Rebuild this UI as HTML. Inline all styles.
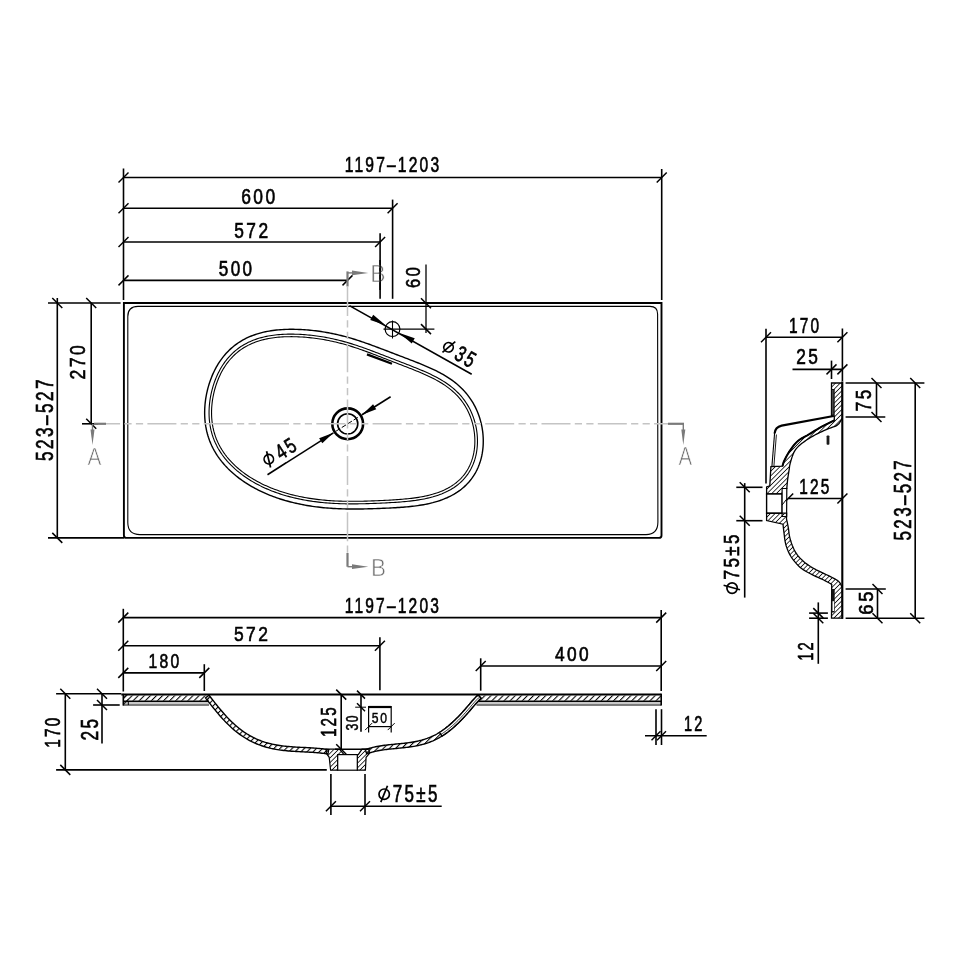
<!DOCTYPE html>
<html><head><meta charset="utf-8"><style>html,body{margin:0;padding:0;background:#fff;width:960px;height:960px;overflow:hidden}svg{display:block} text{-webkit-font-smoothing:grayscale}</style></head>
<body><svg width="960" height="960" viewBox="0 0 960 960">
<rect width="960" height="960" fill="#fff"/>
<g style="will-change:transform">
<line x1="123.50" y1="168.50" x2="123.50" y2="300.00" stroke="#000" stroke-width="1.6" />
<line x1="123.50" y1="177.50" x2="661.70" y2="177.50" stroke="#000" stroke-width="1.6" />
<line x1="118.50" y1="182.50" x2="128.50" y2="172.50" stroke="#000" stroke-width="1.5" />
<line x1="656.70" y1="182.50" x2="666.70" y2="172.50" stroke="#000" stroke-width="1.5" />
<line x1="123.50" y1="208.20" x2="392.60" y2="208.20" stroke="#000" stroke-width="1.6" />
<line x1="118.50" y1="213.20" x2="128.50" y2="203.20" stroke="#000" stroke-width="1.5" />
<line x1="387.60" y1="213.20" x2="397.60" y2="203.20" stroke="#000" stroke-width="1.5" />
<line x1="123.50" y1="242.00" x2="380.10" y2="242.00" stroke="#000" stroke-width="1.6" />
<line x1="118.50" y1="247.00" x2="128.50" y2="237.00" stroke="#000" stroke-width="1.5" />
<line x1="375.10" y1="247.00" x2="385.10" y2="237.00" stroke="#000" stroke-width="1.5" />
<line x1="123.50" y1="280.40" x2="347.50" y2="280.40" stroke="#000" stroke-width="1.6" />
<line x1="118.50" y1="285.40" x2="128.50" y2="275.40" stroke="#000" stroke-width="1.5" />
<line x1="342.50" y1="285.40" x2="352.50" y2="275.40" stroke="#000" stroke-width="1.5" />
<line x1="661.70" y1="169.00" x2="661.70" y2="300.00" stroke="#000" stroke-width="1.6" />
<line x1="392.60" y1="199.60" x2="392.60" y2="298.80" stroke="#000" stroke-width="1.6" />
<line x1="380.10" y1="233.30" x2="380.10" y2="298.80" stroke="#000" stroke-width="1.6" />
<text transform="translate(345.70,156.30) scale(0.1562,0.2243) translate(-6.5,71.5)" font-family="Liberation Sans" font-size="100" letter-spacing="14" fill="#000" stroke="#000" stroke-width="3">1197–1203</text>
<text transform="translate(241.80,187.30) scale(0.1746,0.2284) translate(-3.5,71.5)" font-family="Liberation Sans" font-size="100" letter-spacing="14" fill="#000" stroke="#000" stroke-width="3">600</text>
<text transform="translate(234.70,221.70) scale(0.1735,0.2270) translate(-2.5,71.5)" font-family="Liberation Sans" font-size="100" letter-spacing="14" fill="#000" stroke="#000" stroke-width="3">572</text>
<text transform="translate(219.20,259.70) scale(0.1711,0.2257) translate(-2.5,71.5)" font-family="Liberation Sans" font-size="100" letter-spacing="14" fill="#000" stroke="#000" stroke-width="3">500</text>
<line x1="48.00" y1="303.00" x2="120.60" y2="303.00" stroke="#000" stroke-width="1.6" />
<line x1="48.00" y1="537.90" x2="124.00" y2="537.90" stroke="#000" stroke-width="1.6" />
<line x1="82.00" y1="423.80" x2="98.00" y2="423.80" stroke="#000" stroke-width="1.6" />
<line x1="57.30" y1="298.00" x2="57.30" y2="538.00" stroke="#000" stroke-width="1.6" />
<line x1="52.30" y1="298.00" x2="62.30" y2="308.00" stroke="#000" stroke-width="1.5" />
<line x1="52.30" y1="532.90" x2="62.30" y2="542.90" stroke="#000" stroke-width="1.5" />
<line x1="91.20" y1="303.00" x2="91.20" y2="423.80" stroke="#000" stroke-width="1.6" />
<line x1="86.20" y1="298.00" x2="96.20" y2="308.00" stroke="#000" stroke-width="1.5" />
<line x1="86.20" y1="418.80" x2="96.20" y2="428.80" stroke="#000" stroke-width="1.5" />
<text transform="translate(36.30,460.50) rotate(-90) scale(0.1724,0.2311) translate(-2.5,71.5)" font-family="Liberation Sans" font-size="100" letter-spacing="14" fill="#000" stroke="#000" stroke-width="3">523–527</text>
<text transform="translate(70.30,378.80) rotate(-90) scale(0.1757,0.2122) translate(-3.5,71.5)" font-family="Liberation Sans" font-size="100" letter-spacing="14" fill="#000" stroke="#000" stroke-width="3">270</text>
<path d="M123.9,303 H661.5 V535.5 Q661.5,537.9 659,537.9 H126.3 Q123.9,537.9 123.9,535.5 Z" stroke="#000" stroke-width="1.9" fill="none" />
<path d="M127.8,316.5 Q127.8,306.4 138,306.4 H650 Q657.6,306.4 657.6,314 L657.9,522 Q657.9,534.6 646,534.6 H140 Q127.8,534.6 127.8,522.5 Z" stroke="#000" stroke-width="1.1" fill="none" />
<path d="M205.28,423.09 L205.07,421.28 L204.91,419.46 L204.78,417.64 L204.70,415.81 L204.66,413.98 L204.65,412.14 L204.68,410.30 L204.75,408.45 L204.86,406.60 L205.00,404.75 L205.18,402.90 L205.40,401.05 L205.65,399.20 L205.94,397.35 L206.27,395.50 L206.63,393.65 L207.03,391.81 L207.46,389.98 L207.93,388.15 L208.43,386.33 L208.97,384.52 L209.54,382.71 L210.15,380.92 L210.79,379.15 L211.47,377.38 L212.18,375.63 L212.93,373.90 L213.72,372.19 L214.54,370.49 L215.40,368.82 L216.29,367.17 L217.23,365.54 L218.19,363.94 L219.19,362.36 L220.23,360.82 L221.31,359.30 L222.42,357.81 L223.56,356.36 L224.74,354.94 L225.96,353.55 L227.21,352.20 L228.49,350.89 L229.81,349.61 L231.16,348.37 L232.54,347.17 L233.96,346.01 L235.40,344.90 L236.87,343.82 L238.38,342.78 L239.91,341.79 L241.47,340.84 L243.05,339.93 L244.66,339.06 L246.29,338.23 L247.95,337.45 L249.63,336.71 L251.32,336.00 L253.04,335.34 L254.77,334.72 L256.52,334.14 L258.29,333.59 L260.07,333.09 L261.86,332.62 L263.67,332.18 L265.48,331.78 L267.31,331.42 L269.14,331.08 L270.98,330.78 L272.83,330.52 L274.68,330.28 L276.54,330.07 L278.40,329.88 L280.26,329.73 L282.13,329.60 L284.00,329.49 L285.87,329.41 L287.73,329.35 L289.60,329.32 L291.47,329.30 L293.34,329.31 L295.21,329.33 L297.07,329.38 L298.93,329.45 L300.79,329.53 L302.65,329.63 L304.51,329.75 L306.36,329.88 L308.21,330.03 L310.06,330.20 L311.90,330.39 L313.74,330.59 L315.58,330.81 L317.41,331.04 L319.25,331.29 L321.07,331.55 L322.90,331.84 L324.72,332.13 L326.54,332.45 L328.36,332.77 L330.17,333.12 L331.98,333.48 L333.79,333.85 L335.59,334.24 L337.39,334.65 L339.19,335.07 L340.98,335.51 L342.77,335.96 L344.56,336.43 L346.34,336.91 L348.12,337.41 L349.90,337.92 L351.67,338.44 L353.44,338.98 L355.21,339.52 L356.97,340.08 L358.73,340.65 L360.49,341.24 L362.24,341.83 L363.99,342.43 L365.74,343.04 L367.48,343.65 L369.23,344.28 L370.97,344.91 L372.70,345.55 L374.44,346.19 L376.17,346.84 L377.90,347.49 L379.63,348.14 L381.36,348.80 L383.09,349.45 L384.82,350.11 L386.54,350.77 L388.27,351.43 L390.00,352.10 L391.72,352.76 L393.45,353.42 L395.18,354.08 L396.90,354.74 L398.63,355.40 L400.36,356.06 L402.09,356.72 L403.82,357.38 L405.55,358.04 L407.29,358.70 L409.02,359.36 L410.75,360.03 L412.49,360.70 L414.22,361.37 L415.95,362.05 L417.68,362.73 L419.41,363.42 L421.14,364.12 L422.86,364.83 L424.58,365.55 L426.30,366.28 L428.01,367.02 L429.71,367.77 L431.41,368.54 L433.10,369.33 L434.77,370.13 L436.44,370.95 L438.10,371.79 L439.74,372.65 L441.37,373.53 L442.99,374.44 L444.59,375.37 L446.17,376.33 L447.73,377.31 L449.27,378.32 L450.79,379.35 L452.29,380.42 L453.76,381.51 L455.21,382.64 L456.63,383.79 L458.02,384.98 L459.39,386.19 L460.73,387.44 L462.03,388.72 L463.30,390.03 L464.54,391.37 L465.75,392.74 L466.92,394.15 L468.06,395.58 L469.16,397.05 L470.22,398.54 L471.24,400.06 L472.23,401.62 L473.18,403.20 L474.08,404.81 L474.95,406.44 L475.78,408.10 L476.56,409.78 L477.31,411.49 L478.01,413.22 L478.67,414.97 L479.29,416.73 L479.86,418.52 L480.39,420.33 L480.88,422.15 L481.32,423.98 L481.72,425.82 L482.08,427.68 L482.38,429.55 L482.65,431.42 L482.87,433.30 L483.04,435.19 L483.16,437.07 L483.24,438.96 L483.27,440.85 L483.25,442.74 L483.19,444.62 L483.08,446.50 L482.91,448.37 L482.70,450.23 L482.44,452.08 L482.13,453.92 L481.77,455.74 L481.37,457.55 L480.91,459.34 L480.40,461.11 L479.84,462.86 L479.22,464.58 L478.56,466.29 L477.85,467.96 L477.09,469.62 L476.27,471.24 L475.41,472.83 L474.49,474.39 L473.53,475.92 L472.52,477.42 L471.46,478.88 L470.35,480.30 L469.20,481.69 L467.99,483.04 L466.75,484.36 L465.46,485.63 L464.13,486.86 L462.75,488.06 L461.34,489.21 L459.89,490.32 L458.39,491.39 L456.87,492.42 L455.31,493.41 L453.72,494.36 L452.09,495.26 L450.44,496.13 L448.76,496.95 L447.06,497.74 L445.33,498.48 L443.58,499.19 L441.81,499.86 L440.03,500.49 L438.23,501.08 L436.41,501.64 L434.58,502.17 L432.75,502.67 L430.90,503.13 L429.04,503.56 L427.18,503.96 L425.32,504.34 L423.45,504.69 L421.58,505.01 L419.71,505.31 L417.84,505.59 L415.98,505.85 L414.11,506.09 L412.25,506.31 L410.39,506.51 L408.53,506.70 L406.68,506.87 L404.84,507.04 L403.00,507.19 L401.16,507.32 L399.33,507.45 L397.50,507.57 L395.68,507.69 L393.86,507.79 L392.04,507.89 L390.23,507.99 L388.42,508.08 L386.61,508.16 L384.81,508.24 L383.00,508.32 L381.20,508.40 L379.39,508.47 L377.59,508.53 L375.78,508.60 L373.97,508.66 L372.16,508.71 L370.34,508.77 L368.53,508.82 L366.70,508.86 L364.88,508.90 L363.05,508.94 L361.21,508.97 L359.37,508.99 L357.52,509.01 L355.67,509.02 L353.82,509.02 L351.95,509.02 L350.09,509.01 L348.21,508.98 L346.34,508.95 L344.46,508.91 L342.57,508.86 L340.69,508.80 L338.80,508.72 L336.91,508.64 L335.01,508.54 L333.12,508.43 L331.22,508.31 L329.33,508.17 L327.44,508.02 L325.55,507.86 L323.66,507.68 L321.77,507.49 L319.89,507.29 L318.01,507.07 L316.14,506.83 L314.27,506.58 L312.41,506.32 L310.56,506.04 L308.71,505.75 L306.87,505.44 L305.04,505.12 L303.21,504.78 L301.40,504.43 L299.59,504.06 L297.79,503.67 L296.00,503.28 L294.21,502.86 L292.43,502.43 L290.67,501.98 L288.91,501.52 L287.15,501.04 L285.41,500.55 L283.67,500.03 L281.94,499.50 L280.21,498.96 L278.49,498.39 L276.78,497.81 L275.07,497.21 L273.37,496.58 L271.68,495.94 L269.99,495.28 L268.30,494.60 L266.63,493.90 L264.95,493.18 L263.29,492.43 L261.62,491.66 L259.97,490.87 L258.32,490.06 L256.67,489.22 L255.04,488.36 L253.41,487.47 L251.79,486.56 L250.18,485.62 L248.58,484.65 L246.99,483.66 L245.41,482.65 L243.85,481.60 L242.29,480.53 L240.76,479.44 L239.24,478.32 L237.74,477.17 L236.25,475.99 L234.79,474.79 L233.35,473.56 L231.93,472.30 L230.53,471.02 L229.16,469.71 L227.82,468.38 L226.51,467.02 L225.22,465.64 L223.97,464.23 L222.75,462.80 L221.56,461.35 L220.41,459.87 L219.29,458.38 L218.21,456.86 L217.17,455.32 L216.17,453.76 L215.21,452.19 L214.28,450.59 L213.40,448.98 L212.56,447.35 L211.76,445.70 L211.01,444.04 L210.30,442.36 L209.62,440.67 L209.00,438.96 L208.41,437.24 L207.87,435.51 L207.37,433.76 L206.92,432.01 L206.51,430.25 L206.14,428.47 L205.81,426.69 L205.52,424.89 Z" stroke="#000" stroke-width="1.4" fill="none" />
<path d="M209.64,422.55 L209.45,420.84 L209.29,419.12 L209.18,417.39 L209.10,415.66 L209.06,413.92 L209.05,412.17 L209.08,410.42 L209.15,408.66 L209.25,406.90 L209.39,405.14 L209.56,403.37 L209.77,401.60 L210.01,399.84 L210.29,398.07 L210.60,396.30 L210.95,394.54 L211.33,392.78 L211.74,391.03 L212.19,389.28 L212.67,387.54 L213.19,385.81 L213.74,384.10 L214.32,382.39 L214.94,380.69 L215.59,379.02 L216.27,377.35 L216.99,375.71 L217.74,374.08 L218.52,372.48 L219.34,370.89 L220.19,369.33 L221.07,367.80 L221.99,366.29 L222.94,364.81 L223.92,363.36 L224.93,361.94 L225.98,360.54 L227.06,359.18 L228.17,357.86 L229.31,356.57 L230.48,355.31 L231.68,354.09 L232.91,352.90 L234.18,351.76 L235.47,350.64 L236.79,349.57 L238.14,348.54 L239.51,347.54 L240.92,346.58 L242.35,345.66 L243.80,344.78 L245.29,343.94 L246.79,343.14 L248.32,342.37 L249.87,341.65 L251.45,340.96 L253.04,340.31 L254.66,339.69 L256.29,339.12 L257.95,338.58 L259.62,338.07 L261.30,337.60 L263.00,337.16 L264.72,336.76 L266.45,336.39 L268.19,336.05 L269.94,335.74 L271.70,335.46 L273.47,335.22 L275.25,335.00 L277.04,334.80 L278.83,334.64 L280.63,334.50 L282.43,334.38 L284.24,334.29 L286.04,334.22 L287.86,334.17 L289.67,334.15 L291.48,334.14 L293.30,334.16 L295.11,334.19 L296.93,334.25 L298.74,334.32 L300.55,334.41 L302.36,334.52 L304.17,334.64 L305.98,334.78 L307.78,334.94 L309.59,335.12 L311.39,335.31 L313.18,335.51 L314.98,335.73 L316.77,335.97 L318.55,336.22 L320.34,336.49 L322.12,336.77 L323.89,337.07 L325.67,337.39 L327.44,337.72 L329.21,338.06 L330.97,338.42 L332.73,338.80 L334.49,339.19 L336.25,339.60 L338.00,340.02 L339.75,340.45 L341.50,340.90 L343.24,341.37 L344.99,341.85 L346.72,342.34 L348.46,342.85 L350.20,343.37 L351.93,343.90 L353.66,344.45 L355.39,345.01 L357.12,345.58 L358.84,346.16 L360.56,346.75 L362.29,347.35 L364.01,347.96 L365.73,348.58 L367.45,349.21 L369.17,349.84 L370.89,350.48 L372.61,351.12 L374.32,351.77 L376.04,352.43 L377.76,353.09 L379.48,353.75 L381.20,354.41 L382.92,355.08 L384.64,355.75 L386.36,356.41 L388.09,357.08 L389.81,357.75 L391.53,358.42 L393.26,359.09 L394.99,359.76 L396.71,360.43 L398.44,361.10 L400.17,361.77 L401.89,362.43 L403.62,363.10 L405.35,363.77 L407.07,364.44 L408.79,365.11 L410.52,365.79 L412.23,366.46 L413.95,367.14 L415.66,367.83 L417.36,368.52 L419.06,369.22 L420.76,369.92 L422.44,370.63 L424.12,371.36 L425.79,372.09 L427.44,372.83 L429.09,373.59 L430.72,374.36 L432.34,375.14 L433.95,375.94 L435.54,376.75 L437.11,377.59 L438.67,378.44 L440.20,379.31 L441.72,380.20 L443.21,381.12 L444.69,382.05 L446.14,383.01 L447.56,383.99 L448.96,385.00 L450.33,386.03 L451.68,387.08 L453.00,388.16 L454.29,389.27 L455.55,390.40 L456.78,391.56 L457.98,392.75 L459.15,393.96 L460.29,395.20 L461.40,396.47 L462.47,397.76 L463.51,399.08 L464.52,400.43 L465.49,401.81 L466.43,403.21 L467.33,404.64 L468.19,406.10 L469.02,407.58 L469.82,409.08 L470.57,410.61 L471.29,412.16 L471.98,413.73 L472.62,415.33 L473.23,416.94 L473.79,418.58 L474.32,420.23 L474.81,421.89 L475.26,423.58 L475.67,425.27 L476.04,426.98 L476.37,428.70 L476.65,430.42 L476.89,432.16 L477.10,433.90 L477.25,435.64 L477.37,437.39 L477.44,439.13 L477.47,440.87 L477.45,442.61 L477.39,444.35 L477.29,446.07 L477.14,447.79 L476.95,449.50 L476.71,451.19 L476.43,452.87 L476.10,454.54 L475.73,456.18 L475.31,457.81 L474.85,459.42 L474.34,461.00 L473.79,462.57 L473.20,464.10 L472.56,465.62 L471.87,467.10 L471.15,468.56 L470.38,469.99 L469.56,471.40 L468.70,472.77 L467.80,474.11 L466.86,475.42 L465.87,476.70 L464.84,477.95 L463.77,479.16 L462.66,480.34 L461.50,481.49 L460.31,482.61 L459.07,483.69 L457.80,484.73 L456.49,485.75 L455.14,486.72 L453.76,487.67 L452.34,488.57 L450.89,489.45 L449.40,490.29 L447.89,491.09 L446.34,491.86 L444.77,492.59 L443.16,493.29 L441.54,493.96 L439.89,494.59 L438.22,495.19 L436.53,495.76 L434.82,496.30 L433.09,496.81 L431.35,497.28 L429.60,497.73 L427.83,498.15 L426.05,498.55 L424.27,498.92 L422.48,499.26 L420.68,499.58 L418.87,499.88 L417.07,500.16 L415.26,500.42 L413.44,500.66 L411.63,500.89 L409.82,501.10 L408.00,501.29 L406.19,501.47 L404.38,501.64 L402.57,501.79 L400.76,501.94 L398.96,502.08 L397.15,502.21 L395.35,502.33 L393.55,502.44 L391.75,502.55 L389.96,502.65 L388.16,502.75 L386.37,502.84 L384.57,502.93 L382.78,503.02 L380.98,503.10 L379.19,503.18 L377.40,503.26 L375.60,503.33 L373.80,503.40 L372.00,503.46 L370.20,503.53 L368.39,503.58 L366.58,503.64 L364.77,503.69 L362.95,503.73 L361.13,503.77 L359.31,503.80 L357.48,503.83 L355.65,503.85 L353.82,503.87 L351.98,503.87 L350.13,503.87 L348.29,503.86 L346.44,503.83 L344.58,503.80 L342.73,503.76 L340.87,503.71 L339.01,503.65 L337.15,503.57 L335.29,503.49 L333.43,503.39 L331.57,503.28 L329.71,503.15 L327.85,503.02 L326.00,502.87 L324.14,502.70 L322.29,502.53 L320.45,502.33 L318.61,502.13 L316.78,501.91 L314.95,501.67 L313.13,501.43 L311.31,501.16 L309.51,500.89 L307.70,500.59 L305.91,500.29 L304.13,499.97 L302.35,499.63 L300.58,499.28 L298.83,498.91 L297.07,498.53 L295.33,498.14 L293.60,497.73 L291.87,497.30 L290.15,496.86 L288.44,496.40 L286.74,495.93 L285.05,495.44 L283.36,494.93 L281.68,494.40 L280.01,493.86 L278.34,493.31 L276.68,492.73 L275.03,492.13 L273.38,491.52 L271.74,490.89 L270.10,490.23 L268.47,489.56 L266.85,488.87 L265.23,488.15 L263.62,487.42 L262.01,486.66 L260.41,485.88 L258.82,485.08 L257.24,484.25 L255.66,483.40 L254.10,482.53 L252.54,481.63 L250.99,480.71 L249.46,479.77 L247.93,478.79 L246.43,477.80 L244.93,476.78 L243.45,475.73 L241.99,474.66 L240.54,473.56 L239.12,472.44 L237.71,471.30 L236.33,470.13 L234.96,468.93 L233.63,467.71 L232.32,466.47 L231.03,465.21 L229.78,463.92 L228.55,462.61 L227.36,461.28 L226.20,459.92 L225.07,458.55 L223.97,457.16 L222.91,455.74 L221.88,454.31 L220.90,452.86 L219.95,451.40 L219.03,449.91 L218.16,448.41 L217.33,446.89 L216.53,445.36 L215.78,443.81 L215.06,442.25 L214.39,440.68 L213.76,439.09 L213.16,437.49 L212.61,435.87 L212.10,434.24 L211.63,432.60 L211.20,430.95 L210.81,429.29 L210.46,427.62 L210.15,425.94 L209.88,424.25 Z" stroke="#000" stroke-width="1.1" fill="none" />
<path d="M212.13,422.24 L211.94,420.58 L211.79,418.92 L211.67,417.25 L211.60,415.57 L211.55,413.88 L211.55,412.19 L211.58,410.49 L211.64,408.78 L211.74,407.07 L211.88,405.36 L212.05,403.64 L212.25,401.92 L212.49,400.20 L212.76,398.48 L213.06,396.76 L213.40,395.04 L213.77,393.33 L214.17,391.63 L214.61,389.93 L215.08,388.23 L215.58,386.55 L216.12,384.88 L216.68,383.22 L217.28,381.57 L217.92,379.94 L218.58,378.32 L219.28,376.73 L220.00,375.15 L220.76,373.59 L221.55,372.06 L222.38,370.55 L223.23,369.07 L224.12,367.61 L225.03,366.18 L225.98,364.78 L226.96,363.41 L227.97,362.07 L229.01,360.76 L230.07,359.49 L231.17,358.25 L232.30,357.04 L233.45,355.87 L234.64,354.73 L235.85,353.63 L237.09,352.56 L238.35,351.54 L239.65,350.54 L240.97,349.59 L242.31,348.67 L243.69,347.79 L245.09,346.95 L246.51,346.14 L247.96,345.37 L249.43,344.63 L250.92,343.93 L252.44,343.27 L253.98,342.65 L255.54,342.05 L257.12,341.50 L258.72,340.97 L260.33,340.49 L261.97,340.03 L263.62,339.61 L265.28,339.22 L266.97,338.86 L268.66,338.53 L270.37,338.23 L272.09,337.96 L273.82,337.72 L275.56,337.50 L277.30,337.32 L279.06,337.15 L280.82,337.02 L282.59,336.90 L284.36,336.81 L286.14,336.75 L287.92,336.70 L289.70,336.68 L291.49,336.67 L293.28,336.69 L295.06,336.73 L296.85,336.78 L298.64,336.85 L300.43,336.94 L302.21,337.05 L304.00,337.17 L305.78,337.31 L307.56,337.47 L309.34,337.64 L311.12,337.83 L312.89,338.03 L314.67,338.25 L316.43,338.49 L318.20,338.74 L319.96,339.01 L321.72,339.29 L323.47,339.58 L325.23,339.89 L326.98,340.22 L328.72,340.56 L330.47,340.92 L332.21,341.29 L333.94,341.68 L335.68,342.08 L337.41,342.50 L339.14,342.93 L340.86,343.37 L342.59,343.83 L344.31,344.31 L346.03,344.80 L347.75,345.30 L349.47,345.82 L351.18,346.35 L352.89,346.89 L354.61,347.44 L356.32,348.01 L358.03,348.58 L359.74,349.17 L361.45,349.77 L363.16,350.37 L364.87,350.99 L366.58,351.61 L368.29,352.24 L370.00,352.88 L371.71,353.52 L373.43,354.17 L375.14,354.83 L376.85,355.48 L378.57,356.15 L380.29,356.81 L382.00,357.48 L383.72,358.14 L385.45,358.81 L387.17,359.48 L388.89,360.15 L390.62,360.82 L392.34,361.49 L394.07,362.16 L395.80,362.83 L397.52,363.50 L399.25,364.17 L400.98,364.84 L402.70,365.51 L404.43,366.17 L406.15,366.84 L407.87,367.52 L409.59,368.19 L411.30,368.86 L413.00,369.54 L414.71,370.23 L416.40,370.91 L418.09,371.61 L419.77,372.30 L421.44,373.01 L423.10,373.73 L424.75,374.45 L426.39,375.19 L428.01,375.93 L429.62,376.69 L431.22,377.46 L432.79,378.25 L434.36,379.05 L435.90,379.87 L437.42,380.70 L438.92,381.56 L440.40,382.43 L441.86,383.32 L443.29,384.23 L444.70,385.16 L446.08,386.12 L447.44,387.09 L448.77,388.09 L450.07,389.11 L451.34,390.15 L452.59,391.22 L453.81,392.32 L454.99,393.43 L456.15,394.58 L457.27,395.74 L458.37,396.94 L459.43,398.15 L460.46,399.40 L461.46,400.67 L462.42,401.97 L463.35,403.29 L464.25,404.63 L465.12,406.01 L465.95,407.40 L466.74,408.82 L467.51,410.27 L468.23,411.74 L468.93,413.23 L469.58,414.74 L470.20,416.28 L470.78,417.83 L471.33,419.40 L471.84,420.99 L472.31,422.60 L472.74,424.22 L473.14,425.85 L473.49,427.50 L473.81,429.15 L474.08,430.82 L474.32,432.49 L474.51,434.16 L474.66,435.84 L474.77,437.52 L474.84,439.21 L474.87,440.88 L474.85,442.56 L474.80,444.22 L474.70,445.88 L474.56,447.53 L474.37,449.17 L474.14,450.80 L473.87,452.41 L473.56,454.00 L473.20,455.57 L472.80,457.13 L472.36,458.66 L471.88,460.17 L471.35,461.66 L470.79,463.13 L470.18,464.56 L469.53,465.98 L468.84,467.36 L468.11,468.72 L467.34,470.05 L466.53,471.35 L465.67,472.62 L464.78,473.86 L463.85,475.07 L462.87,476.25 L461.86,477.41 L460.80,478.53 L459.71,479.62 L458.58,480.67 L457.40,481.70 L456.19,482.70 L454.95,483.66 L453.66,484.60 L452.34,485.50 L450.99,486.37 L449.59,487.20 L448.17,488.01 L446.71,488.78 L445.23,489.52 L443.71,490.23 L442.17,490.90 L440.60,491.55 L439.00,492.16 L437.38,492.75 L435.74,493.30 L434.08,493.82 L432.40,494.32 L430.70,494.78 L428.99,495.22 L427.26,495.64 L425.52,496.02 L423.78,496.39 L422.02,496.72 L420.25,497.04 L418.48,497.34 L416.70,497.61 L414.92,497.87 L413.13,498.11 L411.34,498.33 L409.55,498.54 L407.75,498.73 L405.96,498.91 L404.16,499.07 L402.37,499.23 L400.58,499.38 L398.78,499.51 L396.99,499.64 L395.20,499.76 L393.41,499.88 L391.62,499.99 L389.83,500.09 L388.04,500.19 L386.25,500.28 L384.46,500.37 L382.67,500.46 L380.88,500.54 L379.09,500.62 L377.30,500.70 L375.51,500.77 L373.72,500.84 L371.92,500.90 L370.12,500.97 L368.33,501.03 L366.52,501.08 L364.72,501.13 L362.91,501.18 L361.10,501.22 L359.28,501.25 L357.46,501.28 L355.64,501.30 L353.82,501.31 L351.99,501.32 L350.16,501.31 L348.32,501.30 L346.49,501.28 L344.65,501.25 L342.80,501.21 L340.96,501.16 L339.12,501.10 L337.27,501.03 L335.43,500.94 L333.58,500.85 L331.74,500.74 L329.90,500.62 L328.06,500.48 L326.22,500.33 L324.39,500.17 L322.56,500.00 L320.74,499.81 L318.92,499.61 L317.10,499.39 L315.29,499.16 L313.49,498.91 L311.70,498.65 L309.91,498.38 L308.13,498.09 L306.36,497.79 L304.60,497.48 L302.85,497.14 L301.10,496.80 L299.37,496.44 L297.64,496.06 L295.92,495.67 L294.21,495.27 L292.50,494.85 L290.81,494.41 L289.12,493.96 L287.45,493.50 L285.78,493.01 L284.11,492.52 L282.46,492.00 L280.81,491.47 L279.17,490.92 L277.53,490.35 L275.91,489.77 L274.29,489.16 L272.67,488.54 L271.06,487.90 L269.46,487.24 L267.86,486.56 L266.27,485.86 L264.69,485.14 L263.11,484.39 L261.54,483.63 L259.98,482.84 L258.43,482.03 L256.88,481.20 L255.35,480.35 L253.82,479.47 L252.31,478.57 L250.80,477.64 L249.31,476.69 L247.84,475.72 L246.37,474.72 L244.93,473.70 L243.50,472.65 L242.08,471.58 L240.69,470.49 L239.32,469.37 L237.97,468.23 L236.65,467.07 L235.34,465.88 L234.07,464.67 L232.82,463.44 L231.60,462.19 L230.41,460.92 L229.25,459.63 L228.12,458.32 L227.02,456.99 L225.96,455.64 L224.93,454.27 L223.94,452.89 L222.99,451.48 L222.07,450.07 L221.19,448.63 L220.34,447.18 L219.54,445.72 L218.77,444.24 L218.04,442.75 L217.35,441.24 L216.70,439.73 L216.09,438.19 L215.52,436.65 L214.99,435.09 L214.50,433.53 L214.04,431.95 L213.63,430.36 L213.25,428.75 L212.91,427.14 L212.61,425.52 L212.35,423.88 Z" stroke="#000" stroke-width="1.1" fill="none" />
<circle cx="347.7" cy="423.8" r="15.4" stroke="#000" stroke-width="2.6" fill="none"/>
<circle cx="347.7" cy="423.8" r="10.1" stroke="#000" stroke-width="1.6" fill="none"/>
<circle cx="392.5" cy="329.1" r="7.4" stroke="#000" stroke-width="1.2" fill="none"/>
<line x1="392.50" y1="320.50" x2="392.50" y2="338.50" stroke="#000" stroke-width="1.1" />
<line x1="383.50" y1="329.10" x2="434.40" y2="329.10" stroke="#000" stroke-width="1.3" />
<line x1="426.00" y1="264.40" x2="426.00" y2="333.00" stroke="#000" stroke-width="1.3" />
<line x1="421.00" y1="298.20" x2="431.00" y2="308.20" stroke="#000" stroke-width="1.5" />
<line x1="421.00" y1="324.10" x2="431.00" y2="334.10" stroke="#000" stroke-width="1.5" />
<text transform="translate(405.00,287.50) rotate(-90) scale(0.1681,0.2108) translate(-3.5,71.5)" font-family="Liberation Sans" font-size="100" letter-spacing="14" fill="#000" stroke="#000" stroke-width="3">60</text>
<line x1="367.00" y1="354.40" x2="392.00" y2="363.75" stroke="#000" stroke-width="2.3" />
<line x1="349.40" y1="305.60" x2="471.70" y2="374.20" stroke="#000" stroke-width="1.6" />
<path d="M385.64,325.19 L370.25,319.88 L373.22,314.67 Z" fill="#000"/>
<path d="M399.36,333.01 L414.75,338.32 L411.78,343.53 Z" fill="#000"/>
<line x1="267.50" y1="474.70" x2="333.41" y2="432.83" stroke="#000" stroke-width="1.6" />
<line x1="361.99" y1="414.77" x2="390.60" y2="396.70" stroke="#000" stroke-width="1.6" />
<line x1="335.86" y1="431.28" x2="359.54" y2="416.32" stroke="#000" stroke-width="1.0" stroke-dasharray="5 2"/>
<path d="M333.41,432.83 L322.33,443.37 L319.13,438.30 Z" fill="#000"/>
<path d="M361.99,414.77 L373.07,404.23 L376.27,409.30 Z" fill="#000"/>
<g transform="rotate(30)"><circle cx="562.10" cy="76.50" r="4.70" stroke="#000" stroke-width="1.7" fill="none"/><line x1="559.40" y1="84.00" x2="565.10" y2="68.20" stroke="#000" stroke-width="1.7"/><text transform="translate(571.70,67.80) scale(0.1592,0.2230) translate(-2.5,71.5)" font-family="Liberation Sans" font-size="100" letter-spacing="14" fill="#000" stroke="#000" stroke-width="3">35</text></g>
<g transform="rotate(-32.5)"><circle cx="-20.00" cy="531.70" r="4.70" stroke="#000" stroke-width="1.7" fill="none"/><line x1="-23.00" y1="539.70" x2="-17.60" y2="523.80" stroke="#000" stroke-width="1.7"/><text transform="translate(-10.20,523.80) scale(0.1623,0.2149) translate(-0.5,71.5)" font-family="Liberation Sans" font-size="100" letter-spacing="14" fill="#000" stroke="#000" stroke-width="3">45</text></g>
<line x1="106.00" y1="423.80" x2="668.00" y2="423.80" stroke="#c4c4c4" stroke-width="1.5" stroke-dasharray="29 4.3 7.2 4.3 7.2 4.3" stroke-dashoffset="14.9"/>
<line x1="347.50" y1="287.00" x2="347.50" y2="553.00" stroke="#c4c4c4" stroke-width="1.5" stroke-dasharray="29 4.3 7.2 4.3 7.2 4.3"/>
<line x1="94.00" y1="423.80" x2="106.00" y2="423.80" stroke="#7a7a7a" stroke-width="2.2" />
<line x1="668.00" y1="423.80" x2="684.00" y2="423.80" stroke="#7a7a7a" stroke-width="2.2" />
<line x1="683.30" y1="423.80" x2="683.30" y2="430.00" stroke="#7a7a7a" stroke-width="1.4" />
<line x1="92.50" y1="423.80" x2="92.50" y2="430.00" stroke="#7a7a7a" stroke-width="1.4" />
<path d="M90.5,429.5 L94.5,429.5 L92.5,445 Z" fill="#7a7a7a"/>
<path d="M681.3,429.5 L685.3,429.5 L683.3,445 Z" fill="#7a7a7a"/>
<text transform="translate(87.60,448.40) scale(0.2091,0.2464) translate(-0.0,69.0)" font-family="Liberation Sans" font-size="100" letter-spacing="14" fill="#6e6e6e" stroke="#fff" stroke-width="2.8">A</text>
<text transform="translate(678.60,447.90) scale(0.2045,0.2536) translate(-0.0,69.0)" font-family="Liberation Sans" font-size="100" letter-spacing="14" fill="#6e6e6e" stroke="#fff" stroke-width="2.8">A</text>
<line x1="347.50" y1="271.40" x2="347.50" y2="286.50" stroke="#7a7a7a" stroke-width="2.2" />
<line x1="347.50" y1="553.00" x2="347.50" y2="566.70" stroke="#7a7a7a" stroke-width="2.2" />
<line x1="347.50" y1="566.70" x2="352.00" y2="566.70" stroke="#7a7a7a" stroke-width="1.4" />
<line x1="347.50" y1="272.90" x2="352.00" y2="272.90" stroke="#7a7a7a" stroke-width="1.4" />
<path d="M352,270.5 L352,275.3 L368.3,272.9 Z" fill="#7a7a7a"/>
<path d="M352,564.3 L352,569.1 L368.3,566.7 Z" fill="#7a7a7a"/>
<text transform="translate(372.00,265.00) scale(0.2296,0.2406) translate(-8.0,69.0)" font-family="Liberation Sans" font-size="100" letter-spacing="14" fill="#6e6e6e" stroke="#fff" stroke-width="2.8">B</text>
<line x1="380.10" y1="260.00" x2="380.10" y2="290.00" stroke="#000" stroke-width="1.6" />
<text transform="translate(372.90,559.10) scale(0.2259,0.2435) translate(-8.0,69.0)" font-family="Liberation Sans" font-size="100" letter-spacing="14" fill="#6e6e6e" stroke="#fff" stroke-width="2.8">B</text>
<line x1="766.00" y1="328.80" x2="766.00" y2="483.60" stroke="#000" stroke-width="1.6" />
<line x1="842.40" y1="328.50" x2="842.40" y2="381.30" stroke="#000" stroke-width="1.6" />
<line x1="766.00" y1="337.30" x2="842.40" y2="337.30" stroke="#000" stroke-width="1.6" />
<line x1="761.00" y1="342.30" x2="771.00" y2="332.30" stroke="#000" stroke-width="1.5" />
<line x1="837.40" y1="342.30" x2="847.40" y2="332.30" stroke="#000" stroke-width="1.5" />
<text transform="translate(790.00,317.50) scale(0.1548,0.2149) translate(-6.5,71.5)" font-family="Liberation Sans" font-size="100" letter-spacing="14" fill="#000" stroke="#000" stroke-width="3">170</text>
<line x1="831.50" y1="360.60" x2="831.50" y2="379.00" stroke="#000" stroke-width="1.6" />
<line x1="792.50" y1="369.40" x2="842.40" y2="369.40" stroke="#000" stroke-width="1.6" />
<line x1="826.50" y1="374.40" x2="836.50" y2="364.40" stroke="#000" stroke-width="1.5" />
<line x1="837.40" y1="374.40" x2="847.40" y2="364.40" stroke="#000" stroke-width="1.5" />
<text transform="translate(796.90,348.80) scale(0.1731,0.2189) translate(-3.5,71.5)" font-family="Liberation Sans" font-size="100" letter-spacing="14" fill="#000" stroke="#000" stroke-width="3">25</text>
<line x1="845.60" y1="383.00" x2="924.40" y2="383.00" stroke="#000" stroke-width="1.6" />
<line x1="845.60" y1="417.00" x2="885.30" y2="417.00" stroke="#000" stroke-width="1.6" />
<line x1="876.50" y1="383.00" x2="876.50" y2="417.00" stroke="#000" stroke-width="1.6" />
<line x1="871.50" y1="378.00" x2="881.50" y2="388.00" stroke="#000" stroke-width="1.5" />
<line x1="871.50" y1="412.00" x2="881.50" y2="422.00" stroke="#000" stroke-width="1.5" />
<text transform="translate(855.40,410.60) rotate(-90) scale(0.1706,0.2216) translate(-3.5,71.5)" font-family="Liberation Sans" font-size="100" letter-spacing="14" fill="#000" stroke="#000" stroke-width="3">75</text>
<line x1="915.20" y1="383.00" x2="915.20" y2="618.20" stroke="#000" stroke-width="1.6" />
<line x1="910.20" y1="378.00" x2="920.20" y2="388.00" stroke="#000" stroke-width="1.5" />
<line x1="910.20" y1="613.20" x2="920.20" y2="623.20" stroke="#000" stroke-width="1.5" />
<text transform="translate(894.60,540.00) rotate(-90) scale(0.1696,0.2338) translate(-2.5,71.5)" font-family="Liberation Sans" font-size="100" letter-spacing="14" fill="#000" stroke="#000" stroke-width="3">523–527</text>
<line x1="845.60" y1="589.00" x2="885.80" y2="589.00" stroke="#000" stroke-width="1.6" />
<line x1="845.60" y1="618.20" x2="924.40" y2="618.20" stroke="#000" stroke-width="1.6" />
<line x1="877.50" y1="589.00" x2="877.50" y2="618.20" stroke="#000" stroke-width="1.6" />
<line x1="872.50" y1="584.00" x2="882.50" y2="594.00" stroke="#000" stroke-width="1.5" />
<line x1="872.50" y1="613.20" x2="882.50" y2="623.20" stroke="#000" stroke-width="1.5" />
<text transform="translate(857.70,614.00) rotate(-90) scale(0.1849,0.2108) translate(-3.5,71.5)" font-family="Liberation Sans" font-size="100" letter-spacing="14" fill="#000" stroke="#000" stroke-width="3">65</text>
<line x1="788.20" y1="498.50" x2="842.40" y2="498.50" stroke="#000" stroke-width="1.6" />
<line x1="783.20" y1="503.50" x2="793.20" y2="493.50" stroke="#000" stroke-width="1.5" />
<line x1="837.40" y1="503.50" x2="847.40" y2="493.50" stroke="#000" stroke-width="1.5" />
<text transform="translate(800.20,477.80) scale(0.1543,0.2257) translate(-6.5,71.5)" font-family="Liberation Sans" font-size="100" letter-spacing="14" fill="#000" stroke="#000" stroke-width="3">125</text>
<line x1="736.30" y1="487.30" x2="762.50" y2="487.30" stroke="#000" stroke-width="1.6" />
<line x1="736.30" y1="520.70" x2="762.50" y2="520.70" stroke="#000" stroke-width="1.6" />
<line x1="744.70" y1="483.10" x2="744.70" y2="597.60" stroke="#000" stroke-width="1.6" />
<line x1="739.70" y1="482.30" x2="749.70" y2="492.30" stroke="#000" stroke-width="1.5" />
<line x1="739.70" y1="515.70" x2="749.70" y2="525.70" stroke="#000" stroke-width="1.5" />
<line x1="809.10" y1="613.10" x2="827.90" y2="613.10" stroke="#000" stroke-width="1.6" />
<line x1="809.10" y1="618.20" x2="827.90" y2="618.20" stroke="#000" stroke-width="1.6" />
<line x1="818.30" y1="602.40" x2="818.30" y2="663.80" stroke="#000" stroke-width="1.6" />
<line x1="813.30" y1="608.10" x2="823.30" y2="618.10" stroke="#000" stroke-width="1.5" />
<line x1="813.30" y1="613.20" x2="823.30" y2="623.20" stroke="#000" stroke-width="1.5" />
<text transform="translate(797.40,659.80) rotate(-90) scale(0.1461,0.2247) translate(-6.5,71.5)" font-family="Liberation Sans" font-size="100" letter-spacing="14" fill="#000" stroke="#000" stroke-width="3">12</text>
<defs><pattern id="h1" patternUnits="userSpaceOnUse" width="3.3" height="10" patternTransform="rotate(45)"><line x1="0" y1="0" x2="0" y2="10" stroke="#000" stroke-width="1.5"/></pattern><pattern id="h2" patternUnits="userSpaceOnUse" width="4.3" height="10" patternTransform="rotate(45)"><line x1="0" y1="0" x2="0" y2="10" stroke="#000" stroke-width="2.1"/></pattern></defs>
<path d="M831.50,383.00 L842.30,383.00 L842.30,418.00 L840.90,420.70 L840.53,421.22 L840.07,421.96 L839.49,422.82 L838.79,423.73 L837.93,424.62 L836.90,425.40 L835.65,426.06 L834.19,426.66 L832.58,427.23 L830.87,427.80 L829.13,428.41 L827.40,429.10 L825.64,429.87 L823.79,430.70 L821.91,431.56 L820.03,432.45 L818.21,433.33 L816.50,434.20 L814.91,435.03 L813.41,435.85 L811.96,436.66 L810.55,437.50 L809.14,438.37 L807.70,439.30 L806.20,440.30 L804.66,441.36 L803.12,442.46 L801.63,443.57 L800.24,444.69 L799.00,445.80 L797.93,446.84 L796.98,447.83 L796.14,448.82 L795.36,449.87 L794.63,451.04 L793.90,452.40 L793.17,454.03 L792.47,455.90 L791.80,457.90 L791.19,459.90 L790.65,461.77 L790.20,463.40 L789.87,464.72 L789.66,465.80 L789.51,466.76 L789.40,467.71 L789.28,468.75 L789.10,470.00 L788.87,471.49 L788.60,473.13 L788.33,474.87 L788.06,476.64 L787.81,478.38 L787.60,480.00 L787.42,481.61 L787.25,483.29 L787.11,484.93 L786.98,486.42 L786.88,487.68 L786.80,488.60 L782.30,494.00 L766.60,494.00 L766.60,487.00 L769.80,485.90 L770.90,466.70 L782.50,466.20 L782.66,465.62 L782.85,464.86 L783.09,463.94 L783.41,462.87 L783.84,461.69 L784.40,460.40 L785.12,458.95 L785.96,457.30 L786.92,455.53 L787.96,453.71 L789.06,451.91 L790.20,450.20 L791.37,448.54 L792.59,446.87 L793.88,445.22 L795.23,443.62 L796.67,442.10 L798.20,440.70 L799.85,439.45 L801.62,438.33 L803.48,437.29 L805.38,436.29 L807.30,435.28 L809.20,434.20 L811.08,433.06 L812.95,431.90 L814.84,430.73 L816.77,429.54 L818.75,428.37 L820.80,427.20 L823.10,425.96 L825.66,424.64 L828.27,423.31 L830.73,422.09 L832.81,421.05 L834.30,420.30 L834.30,416.00 L831.50,416.00 Z" stroke="#000" stroke-width="1.3" fill="url(#h1)" />
<path d="M834.30,420.30 L832.81,421.05 L830.73,422.09 L828.27,423.31 L825.66,424.64 L823.10,425.96 L820.80,427.20 L818.75,428.37 L816.77,429.54 L814.84,430.72 L812.95,431.90 L811.08,433.06 L809.20,434.20 L807.30,435.28 L805.38,436.29 L803.48,437.29 L801.62,438.33 L799.85,439.45 L798.20,440.70 L796.67,442.10 L795.23,443.62 L793.88,445.22 L792.59,446.87 L791.37,448.54 L790.20,450.20 L789.06,451.91 L787.96,453.71 L786.92,455.53 L785.96,457.30 L785.12,458.95 L784.40,460.40 L783.84,461.69 L783.41,462.87 L783.09,463.94 L782.85,464.86 L782.66,465.62 L782.50,466.20" stroke="#000" stroke-width="2.0" fill="none" />
<rect x="831.5" y="389" width="3.2" height="26.5" fill="#111"/>
<line x1="832.80" y1="390.00" x2="832.80" y2="414.50" stroke="#999" stroke-width="0.6" />
<rect x="766.6" y="494" width="15.5" height="19.3" fill="#fff" stroke="#000" stroke-width="1.4"/>
<path d="M782.10,488.50 L786.80,488.50 L786.60,516.50 L782.10,516.50 Z" stroke="#000" stroke-width="1.2" fill="#fff" />
<line x1="782.10" y1="505.00" x2="786.80" y2="499.00" stroke="#000" stroke-width="1.0" />
<path d="M766.60,513.20 L786.60,513.20 L786.50,518.90 L786.70,519.86 L786.99,521.18 L787.32,522.74 L787.67,524.43 L788.01,526.13 L788.30,527.70 L788.53,529.18 L788.72,530.66 L788.89,532.15 L789.08,533.64 L789.31,535.12 L789.60,536.60 L789.95,538.08 L790.35,539.57 L790.78,541.06 L791.25,542.53 L791.76,543.98 L792.30,545.40 L792.87,546.79 L793.46,548.16 L794.08,549.51 L794.76,550.83 L795.49,552.13 L796.30,553.40 L797.17,554.64 L798.07,555.83 L799.04,557.01 L800.09,558.17 L801.24,559.33 L802.50,560.50 L803.88,561.69 L805.37,562.90 L806.96,564.11 L808.64,565.30 L810.39,566.47 L812.20,567.60 L814.13,568.70 L816.20,569.77 L818.34,570.81 L820.50,571.83 L822.61,572.83 L824.60,573.80 L826.54,574.76 L828.49,575.70 L830.39,576.62 L832.19,577.50 L833.81,578.33 L835.20,579.10 L836.33,579.77 L837.22,580.33 L837.95,580.84 L838.57,581.36 L839.13,581.93 L839.70,582.60 L840.27,583.45 L840.80,584.46 L841.28,585.52 L841.70,586.53 L842.04,587.39 L842.30,588.00 L842.30,618.20 L831.50,618.20 L831.70,584.40 L830.87,583.93 L829.76,583.29 L828.42,582.53 L826.92,581.70 L825.33,580.84 L823.70,580.00 L821.98,579.18 L820.09,578.33 L818.11,577.46 L816.10,576.57 L814.11,575.65 L812.20,574.70 L810.34,573.73 L808.47,572.73 L806.63,571.71 L804.84,570.67 L803.15,569.60 L801.60,568.50 L800.19,567.38 L798.91,566.23 L797.72,565.06 L796.60,563.87 L795.54,562.65 L794.50,561.40 L793.49,560.14 L792.54,558.86 L791.63,557.56 L790.77,556.23 L789.96,554.84 L789.20,553.40 L788.48,551.90 L787.80,550.36 L787.18,548.77 L786.60,547.14 L786.07,545.45 L785.60,543.70 L785.20,541.83 L784.86,539.84 L784.58,537.79 L784.34,535.76 L784.12,533.84 L783.90,532.10 L783.69,530.48 L783.51,528.90 L783.34,527.43 L783.20,526.11 L783.09,525.02 L783.00,524.20 L766.60,520.60 Z" stroke="#000" stroke-width="1.3" fill="url(#h1)" />
<rect x="831.5" y="589" width="3.2" height="23.5" fill="#111"/>
<rect x="832.5" y="601.2" width="1.6" height="9.8" fill="#fff"/>
<line x1="842.30" y1="381.50" x2="842.30" y2="618.80" stroke="#000" stroke-width="2.1" />
<path d="M833.6,416 L781.6,425.6 Q775.2,427 774.6,433.5" stroke="#000" stroke-width="2.2" fill="none" />
<line x1="774.60" y1="433.00" x2="771.90" y2="466.50" stroke="#000" stroke-width="1.1" />
<line x1="776.40" y1="434.50" x2="773.90" y2="466.30" stroke="#000" stroke-width="0.9" />
<rect x="826.6" y="435.5" width="2.8" height="9.2" rx="0.8" fill="#1a1a1a"/>
<line x1="123.30" y1="608.80" x2="123.30" y2="691.50" stroke="#000" stroke-width="1.6" />
<line x1="123.30" y1="617.60" x2="661.20" y2="617.60" stroke="#000" stroke-width="1.6" />
<line x1="118.30" y1="622.60" x2="128.30" y2="612.60" stroke="#000" stroke-width="1.5" />
<line x1="656.20" y1="622.60" x2="666.20" y2="612.60" stroke="#000" stroke-width="1.5" />
<line x1="661.20" y1="610.00" x2="661.20" y2="691.00" stroke="#000" stroke-width="1.6" />
<text transform="translate(345.80,597.90) scale(0.1555,0.2176) translate(-6.5,71.5)" font-family="Liberation Sans" font-size="100" letter-spacing="14" fill="#000" stroke="#000" stroke-width="3">1197–1203</text>
<line x1="123.30" y1="645.80" x2="379.90" y2="645.80" stroke="#000" stroke-width="1.6" />
<line x1="118.30" y1="650.80" x2="128.30" y2="640.80" stroke="#000" stroke-width="1.5" />
<line x1="374.90" y1="650.80" x2="384.90" y2="640.80" stroke="#000" stroke-width="1.5" />
<line x1="379.90" y1="637.30" x2="379.90" y2="690.20" stroke="#000" stroke-width="1.6" />
<text transform="translate(234.40,626.00) scale(0.1746,0.2095) translate(-2.5,71.5)" font-family="Liberation Sans" font-size="100" letter-spacing="14" fill="#000" stroke="#000" stroke-width="3">572</text>
<line x1="123.30" y1="672.90" x2="204.30" y2="672.90" stroke="#000" stroke-width="1.6" />
<line x1="118.30" y1="677.90" x2="128.30" y2="667.90" stroke="#000" stroke-width="1.5" />
<line x1="199.30" y1="677.90" x2="209.30" y2="667.90" stroke="#000" stroke-width="1.5" />
<line x1="204.30" y1="664.20" x2="204.30" y2="691.00" stroke="#000" stroke-width="1.6" />
<text transform="translate(149.60,653.20) scale(0.1570,0.2068) translate(-6.5,71.5)" font-family="Liberation Sans" font-size="100" letter-spacing="14" fill="#000" stroke="#000" stroke-width="3">180</text>
<line x1="480.70" y1="666.00" x2="661.20" y2="666.00" stroke="#000" stroke-width="1.6" />
<line x1="475.70" y1="671.00" x2="485.70" y2="661.00" stroke="#000" stroke-width="1.5" />
<line x1="656.20" y1="671.00" x2="666.20" y2="661.00" stroke="#000" stroke-width="1.5" />
<line x1="480.70" y1="658.30" x2="480.70" y2="690.70" stroke="#000" stroke-width="1.6" />
<text transform="translate(555.00,646.70) scale(0.1734,0.2027) translate(-0.5,71.5)" font-family="Liberation Sans" font-size="100" letter-spacing="14" fill="#000" stroke="#000" stroke-width="3">400</text>
<line x1="56.10" y1="693.80" x2="121.30" y2="693.80" stroke="#000" stroke-width="1.6" />
<line x1="93.10" y1="705.00" x2="119.70" y2="705.00" stroke="#000" stroke-width="1.6" />
<line x1="56.10" y1="769.90" x2="326.80" y2="769.90" stroke="#000" stroke-width="1.6" />
<line x1="65.30" y1="693.80" x2="65.30" y2="769.90" stroke="#000" stroke-width="1.6" />
<line x1="60.30" y1="688.80" x2="70.30" y2="698.80" stroke="#000" stroke-width="1.5" />
<line x1="60.30" y1="764.90" x2="70.30" y2="774.90" stroke="#000" stroke-width="1.5" />
<line x1="102.00" y1="693.80" x2="102.00" y2="743.50" stroke="#000" stroke-width="1.6" />
<line x1="97.00" y1="688.80" x2="107.00" y2="698.80" stroke="#000" stroke-width="1.5" />
<line x1="97.00" y1="700.00" x2="107.00" y2="710.00" stroke="#000" stroke-width="1.5" />
<text transform="translate(44.70,746.70) rotate(-90) scale(0.1543,0.2176) translate(-6.5,71.5)" font-family="Liberation Sans" font-size="100" letter-spacing="14" fill="#000" stroke="#000" stroke-width="3">170</text>
<text transform="translate(81.10,739.90) rotate(-90) scale(0.1723,0.2324) translate(-3.5,71.5)" font-family="Liberation Sans" font-size="100" letter-spacing="14" fill="#000" stroke="#000" stroke-width="3">25</text>
<line x1="341.20" y1="694.60" x2="341.20" y2="749.20" stroke="#000" stroke-width="1.6" />
<line x1="336.20" y1="689.60" x2="346.20" y2="699.60" stroke="#000" stroke-width="1.5" />
<line x1="336.20" y1="744.20" x2="346.20" y2="754.20" stroke="#000" stroke-width="1.5" />
<text transform="translate(321.00,736.10) rotate(-90) scale(0.1527,0.2162) translate(-6.5,71.5)" font-family="Liberation Sans" font-size="100" letter-spacing="14" fill="#000" stroke="#000" stroke-width="3">125</text>
<line x1="361.00" y1="694.60" x2="361.00" y2="731.80" stroke="#000" stroke-width="1.6" />
<line x1="357.00" y1="690.60" x2="365.00" y2="698.60" stroke="#000" stroke-width="1.5" />
<line x1="357.00" y1="703.20" x2="365.00" y2="711.20" stroke="#000" stroke-width="1.5" />
<line x1="355.20" y1="707.20" x2="366.00" y2="707.20" stroke="#000" stroke-width="1.0" />
<text transform="translate(346.50,730.30) rotate(-90) scale(0.1217,0.1676) translate(-2.5,71.5)" font-family="Liberation Sans" font-size="100" letter-spacing="14" fill="#000" stroke="#000" stroke-width="3">30</text>
<line x1="368.60" y1="707.00" x2="391.20" y2="707.00" stroke="#000" stroke-width="2.2" />
<line x1="368.60" y1="706.00" x2="368.60" y2="732.40" stroke="#000" stroke-width="1.2" />
<line x1="391.20" y1="706.00" x2="391.20" y2="732.40" stroke="#000" stroke-width="1.2" />
<line x1="368.60" y1="726.60" x2="391.20" y2="726.60" stroke="#000" stroke-width="1.2" />
<line x1="365.10" y1="730.10" x2="372.10" y2="723.10" stroke="#000" stroke-width="1.0" />
<line x1="387.70" y1="730.10" x2="394.70" y2="723.10" stroke="#000" stroke-width="1.0" />
<text transform="translate(372.00,712.80) scale(0.1217,0.1486) translate(-2.5,71.5)" font-family="Liberation Sans" font-size="100" letter-spacing="14" fill="#000" stroke="#000" stroke-width="3">50</text>
<line x1="330.90" y1="773.90" x2="330.90" y2="815.00" stroke="#000" stroke-width="1.6" />
<line x1="365.00" y1="773.90" x2="365.00" y2="815.00" stroke="#000" stroke-width="1.6" />
<line x1="330.90" y1="806.30" x2="441.70" y2="806.30" stroke="#000" stroke-width="1.6" />
<line x1="325.90" y1="811.30" x2="335.90" y2="801.30" stroke="#000" stroke-width="1.5" />
<line x1="360.00" y1="811.30" x2="370.00" y2="801.30" stroke="#000" stroke-width="1.5" />
<line x1="656.00" y1="709.20" x2="656.00" y2="745.00" stroke="#000" stroke-width="1.6" />
<line x1="661.50" y1="709.20" x2="661.50" y2="745.00" stroke="#000" stroke-width="1.6" />
<line x1="645.00" y1="735.80" x2="706.70" y2="735.80" stroke="#000" stroke-width="1.6" />
<line x1="651.50" y1="740.30" x2="660.50" y2="731.30" stroke="#000" stroke-width="1.5" />
<line x1="657.00" y1="740.30" x2="666.00" y2="731.30" stroke="#000" stroke-width="1.5" />
<text transform="translate(685.00,715.20) scale(0.1452,0.2260) translate(-6.5,71.5)" font-family="Liberation Sans" font-size="100" letter-spacing="14" fill="#000" stroke="#000" stroke-width="3">12</text>
<text transform="translate(723.60,578.90) rotate(-90) scale(0.1709,0.2216) translate(-3.5,71.5)" font-family="Liberation Sans" font-size="100" letter-spacing="14" fill="#000" stroke="#000" stroke-width="3">75±5</text>
<circle cx="732.1" cy="588.1" r="5.2" stroke="#000" stroke-width="1.7" fill="none"/>
<line x1="723.60" y1="585.20" x2="740.00" y2="589.80" stroke="#000" stroke-width="1.7" />
<text transform="translate(393.30,785.40) scale(0.1698,0.2311) translate(-3.5,71.5)" font-family="Liberation Sans" font-size="100" letter-spacing="14" fill="#000" stroke="#000" stroke-width="3">75±5</text>
<circle cx="384.2" cy="794.2" r="5.2" stroke="#000" stroke-width="1.7" fill="none"/>
<line x1="380.80" y1="802.10" x2="387.50" y2="785.80" stroke="#000" stroke-width="1.7" />
<rect x="123.30" y="695.5" width="85.70" height="5.2" fill="url(#h2)"/>
<line x1="123.30" y1="701.30" x2="209.00" y2="701.30" stroke="#000" stroke-width="1.5" />
<rect x="123.30" y="702" width="85.70" height="2.2" fill="#c8c8c8"/>
<line x1="123.30" y1="705.00" x2="209.00" y2="705.00" stroke="#000" stroke-width="1.2" />
<rect x="123.3" y="695" width="5" height="10" fill="url(#h2)"/>
<line x1="128.30" y1="701.00" x2="128.30" y2="705.00" stroke="#000" stroke-width="1.0" />
<line x1="123.30" y1="693.80" x2="123.30" y2="705.60" stroke="#000" stroke-width="1.6" />
<rect x="476.50" y="695.5" width="184.70" height="5.2" fill="url(#h2)"/>
<line x1="476.50" y1="701.30" x2="661.20" y2="701.30" stroke="#000" stroke-width="1.5" />
<rect x="476.50" y="702" width="184.70" height="2.2" fill="#c8c8c8"/>
<line x1="476.50" y1="705.00" x2="661.20" y2="705.00" stroke="#000" stroke-width="1.2" />
<line x1="661.20" y1="693.80" x2="661.20" y2="705.60" stroke="#000" stroke-width="1.6" />
<path d="M209.04,695.27 L210.57,697.26 L212.10,699.22 L213.62,701.17 L215.15,703.10 L216.67,705.00 L218.19,706.88 L219.71,708.72 L221.23,710.53 L222.75,712.30 L224.26,714.03 L225.78,715.71 L227.29,717.35 L228.79,718.93 L230.30,720.46 L231.80,721.94 L233.30,723.36 L234.80,724.72 L236.30,726.03 L237.80,727.29 L239.29,728.49 L240.79,729.65 L242.29,730.75 L243.78,731.81 L245.27,732.81 L246.76,733.78 L248.25,734.69 L249.74,735.56 L251.23,736.39 L252.72,737.18 L254.21,737.92 L255.70,738.63 L257.19,739.29 L258.68,739.92 L260.17,740.51 L261.66,741.07 L263.15,741.59 L264.64,742.09 L266.13,742.55 L267.62,742.98 L269.12,743.38 L270.61,743.75 L272.11,744.10 L273.61,744.43 L275.11,744.73 L276.61,745.00 L278.11,745.26 L279.61,745.49 L281.12,745.71 L282.63,745.91 L284.13,746.09 L285.64,746.26 L287.16,746.41 L288.67,746.55 L290.18,746.67 L291.70,746.79 L293.22,746.90 L294.74,747.00 L296.26,747.09 L297.79,747.18 L299.31,747.26 L300.84,747.34 L302.37,747.41 L303.90,747.49 L305.44,747.57 L306.97,747.65 L308.51,747.73 L310.05,747.81 L311.59,747.91 L313.13,748.00 L314.67,748.11 L316.22,748.23 L317.77,748.36 L319.32,748.50 L320.87,748.65 L322.42,748.82 L323.97,749.00 L325.53,749.20 L327.09,749.42 L328.65,749.66 L327.95,754.01 L326.45,753.77 L324.94,753.56 L323.44,753.37 L321.93,753.19 L320.42,753.03 L318.90,752.88 L317.39,752.74 L315.87,752.62 L314.36,752.50 L312.84,752.40 L311.32,752.30 L309.79,752.21 L308.27,752.12 L306.74,752.04 L305.21,751.96 L303.68,751.88 L302.15,751.81 L300.62,751.73 L299.08,751.65 L297.55,751.57 L296.01,751.48 L294.47,751.39 L292.92,751.29 L291.38,751.18 L289.83,751.06 L288.28,750.93 L286.74,750.79 L285.18,750.63 L283.63,750.46 L282.08,750.27 L280.52,750.07 L278.96,749.84 L277.40,749.60 L275.84,749.34 L274.28,749.05 L272.71,748.73 L271.15,748.40 L269.58,748.03 L268.01,747.64 L266.44,747.22 L264.87,746.76 L263.30,746.28 L261.73,745.76 L260.16,745.21 L258.58,744.62 L257.01,743.99 L255.44,743.33 L253.86,742.62 L252.29,741.88 L250.71,741.09 L249.14,740.26 L247.56,739.39 L245.99,738.47 L244.42,737.50 L242.85,736.49 L241.28,735.43 L239.71,734.32 L238.14,733.16 L236.57,731.95 L235.00,730.69 L233.44,729.37 L231.87,728.01 L230.31,726.58 L228.75,725.11 L227.19,723.58 L225.63,721.99 L224.07,720.36 L222.52,718.67 L220.97,716.95 L219.42,715.18 L217.88,713.37 L216.33,711.53 L214.79,709.66 L213.25,707.76 L211.70,705.84 L210.17,703.89 L208.63,701.93 L207.09,699.95 L205.56,697.95 Z" stroke="#000" stroke-width="1.4" fill="url(#h2)" />
<path d="M365.28,749.60 L366.76,749.10 L368.24,748.64 L369.72,748.21 L371.20,747.81 L372.67,747.44 L374.15,747.10 L375.62,746.78 L377.09,746.49 L378.56,746.21 L380.02,745.96 L381.48,745.73 L382.94,745.51 L384.40,745.31 L385.86,745.12 L387.31,744.95 L388.77,744.78 L390.22,744.63 L391.66,744.48 L393.11,744.34 L394.55,744.20 L395.99,744.06 L397.43,743.92 L398.86,743.78 L400.29,743.64 L401.72,743.50 L403.15,743.35 L404.58,743.19 L406.00,743.02 L407.42,742.85 L408.84,742.66 L410.25,742.46 L411.67,742.24 L413.08,742.00 L414.49,741.75 L415.90,741.48 L417.30,741.19 L418.70,740.87 L420.11,740.53 L421.51,740.17 L422.90,739.77 L424.30,739.35 L425.70,738.90 L427.09,738.42 L428.48,737.90 L429.87,737.35 L431.27,736.76 L432.66,736.13 L434.05,735.47 L435.44,734.76 L436.83,734.01 L438.22,733.21 L439.61,732.37 L441.00,731.48 L442.40,730.54 L443.80,729.55 L445.20,728.51 L446.60,727.42 L448.01,726.29 L449.41,725.11 L450.82,723.89 L452.23,722.63 L453.65,721.32 L455.06,719.97 L456.48,718.58 L457.90,717.15 L459.32,715.68 L460.74,714.18 L462.16,712.64 L463.58,711.07 L465.00,709.46 L466.43,707.82 L467.86,706.14 L469.30,704.45 L470.74,702.76 L472.20,701.08 L473.66,699.45 L475.14,697.87 L476.63,696.37 L478.13,694.96 L481.07,698.24 L479.70,699.52 L478.31,700.92 L476.91,702.42 L475.50,703.99 L474.08,705.63 L472.65,707.30 L471.21,708.99 L469.76,710.69 L468.31,712.36 L466.86,714.00 L465.41,715.61 L463.95,717.18 L462.50,718.72 L461.04,720.23 L459.58,721.70 L458.12,723.13 L456.66,724.53 L455.20,725.88 L453.73,727.19 L452.27,728.46 L450.80,729.69 L449.33,730.88 L447.86,732.02 L446.38,733.11 L444.90,734.16 L443.42,735.16 L441.94,736.11 L440.45,737.00 L438.97,737.85 L437.48,738.66 L436.00,739.41 L434.51,740.12 L433.03,740.79 L431.54,741.42 L430.06,742.01 L428.58,742.56 L427.09,743.07 L425.61,743.55 L424.13,744.00 L422.66,744.41 L421.18,744.80 L419.71,745.16 L418.23,745.49 L416.76,745.79 L415.29,746.08 L413.83,746.34 L412.36,746.58 L410.90,746.81 L409.44,747.02 L407.98,747.21 L406.53,747.39 L405.07,747.56 L403.62,747.72 L402.17,747.88 L400.73,748.02 L399.29,748.16 L397.84,748.30 L396.41,748.44 L394.97,748.58 L393.54,748.71 L392.10,748.86 L390.68,749.00 L389.25,749.16 L387.82,749.32 L386.40,749.49 L384.98,749.67 L383.57,749.87 L382.15,750.08 L380.74,750.30 L379.33,750.54 L377.92,750.81 L376.51,751.09 L375.11,751.39 L373.71,751.72 L372.31,752.07 L370.91,752.45 L369.51,752.85 L368.11,753.29 L366.72,753.76 Z" stroke="#000" stroke-width="1.4" fill="url(#h2)" />
<path d="M439.61,732.37 L441.00,731.48 L442.40,730.54 L443.80,729.55 L445.20,728.51 L446.60,727.42 L448.01,726.29 L449.41,725.11 L450.82,723.89 L452.23,722.63 L453.65,721.32 L455.06,719.97 L456.48,718.58 L457.90,717.15 L459.32,715.68 L460.74,714.18 L462.16,712.64 L463.58,711.07 L465.00,709.46 L466.43,707.82 L467.86,706.14 L469.30,704.45 L470.74,702.76 L472.20,701.08 L473.66,699.45 L475.14,697.87 L476.63,696.37 L478.13,694.96 L481.07,698.24 L479.70,699.52 L478.31,700.92 L476.91,702.42 L475.50,703.99 L474.08,705.63 L472.65,707.30 L471.21,708.99 L469.76,710.69 L468.31,712.36 L466.86,714.00 L465.41,715.61 L463.95,717.18 L462.50,718.72 L461.04,720.23 L459.58,721.70 L458.12,723.13 L456.66,724.53 L455.20,725.88 L453.73,727.19 L452.27,728.46 L450.80,729.69 L449.33,730.88 L447.86,732.02 L446.38,733.11 L444.90,734.16 L443.42,735.16 L441.94,736.11 Z" stroke="#000" stroke-width="1.4" fill="#fff" />
<path d="M440.89,734.42 L442.33,733.50 L443.78,732.53 L445.22,731.51 L446.66,730.44 L448.10,729.32 L449.54,728.16 L450.98,726.96 L452.42,725.71 L453.86,724.42 L455.31,723.08 L456.75,721.71 L458.19,720.30 L459.63,718.84 L461.07,717.36 L462.51,715.83 L463.94,714.27 L465.38,712.68 L466.82,711.05 L468.26,709.39 L469.70,707.71 L471.14,706.02 L472.58,704.34 L474.01,702.68 L475.45,701.08 L476.88,699.55 L478.32,698.10 L479.75,696.76" stroke="#000" stroke-width="0.8" fill="none" />
<path d="M326.00,749.20 L339.50,749.20 L344.00,754.60 L337.70,754.60 L337.70,770.20 L330.60,770.20 L329.20,757.30 L326.50,753.50 Z" stroke="#000" stroke-width="1.2" fill="url(#h1)" />
<path d="M369.00,749.20 L362.00,749.20 L358.30,754.60 L357.30,754.60 L357.30,770.20 L365.40,770.20 L366.10,757.30 L369.50,753.30 Z" stroke="#000" stroke-width="1.2" fill="url(#h1)" />
<rect x="337.7" y="754.6" width="19.6" height="15.6" fill="#fff" stroke="#000" stroke-width="1.2"/>
<line x1="335.00" y1="749.30" x2="368.00" y2="749.30" stroke="#000" stroke-width="1.6" />
<line x1="121.30" y1="694.50" x2="661.50" y2="694.50" stroke="#000" stroke-width="2.1" />
</g></svg></body></html>
